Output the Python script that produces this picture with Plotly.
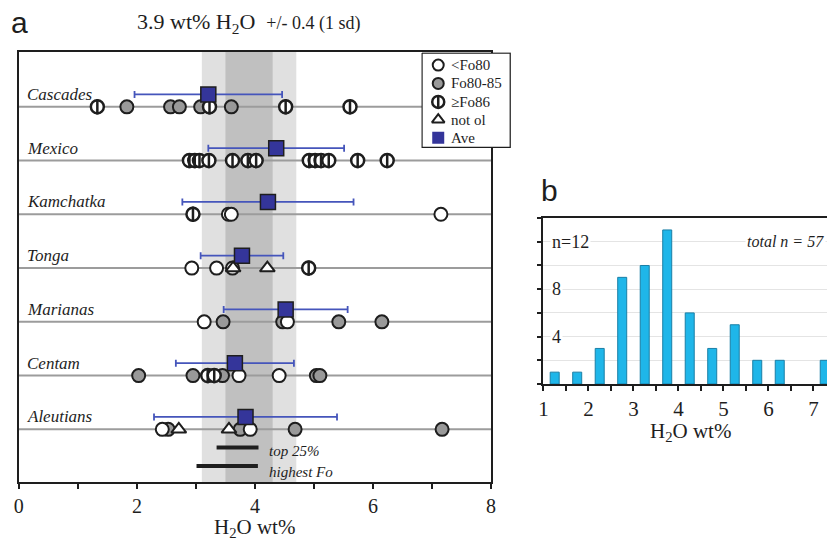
import plotly.graph_objects as go

# ---------------- data ----------------
regions = ["Cascades", "Mexico", "Kamchatka", "Tonga", "Marianas", "Centam", "Aleutians"]

# H2O wt% by olivine class, one list per region (same order as regions)
lt_fo80 = [[], [], [3.55, 3.60, 7.15], [2.93, 3.35, 3.62], [3.14, 4.55], [3.73, 4.41], [2.43, 3.92]]
fo80_85 = [[1.83, 2.57, 2.72, 3.08, 3.60], [], [], [], [3.46, 4.47, 5.42, 6.15],
           [2.03, 2.95, 3.45, 5.04, 5.10], [2.53, 3.75, 4.68, 7.17]]
ge_fo86 = [[1.33, 3.23, 4.52, 5.61],
           [2.89, 2.98, 3.06, 3.22, 3.62, 3.88, 4.02, 4.92, 5.02, 5.12, 5.25, 5.74, 6.24],
           [2.95], [4.91], [], [3.20, 3.31], []]
not_ol = [[], [], [], [3.63, 4.21], [], [], [2.71, 3.56]]
ave = [3.21, 4.36, 4.22, 3.78, 4.52, 3.66, 3.84]
ave_sd = [1.25, 1.15, 1.45, 0.70, 1.05, 1.00, 1.55]

overall_mean = 3.9
overall_sd = 0.4
top25 = [3.35, 4.06]
highest_fo = [3.01, 4.05]

hist_centers = [1.25, 1.75, 2.25, 2.75, 3.25, 3.75, 4.25, 4.75, 5.25, 5.75, 6.25, 6.75, 7.25]
hist_counts = [1, 1, 3, 9, 10, 13, 6, 3, 5, 2, 2, 0, 2]

legend_labels = ["<Fo80", "Fo80-85", "\u2265Fo86", "not ol", "Ave"]

# ---------------- style ----------------
SERIF = "Liberation Serif"
SANS = "Liberation Sans"
INK = "#1e1e1e"
W, H = 832, 543
AVE_OFF = -0.23          # averages drawn slightly above each row line
MS = 13                  # marker size

def flat(groups):
    xs, ys = [], []
    for i, vals in enumerate(groups):
        for v in vals:
            xs.append(v)
            ys.append(i)
    return xs, ys

fig = go.Figure()

# -------- panel a traces --------
x, y = flat(fo80_85)
fig.add_trace(go.Scatter(x=x, y=y, mode="markers", xaxis="x", yaxis="y",
                         marker=dict(symbol="circle", size=MS, color="#999999",
                                     line=dict(color=INK, width=2)), showlegend=False))
x, y = flat(lt_fo80)
fig.add_trace(go.Scatter(x=x, y=y, mode="markers", xaxis="x", yaxis="y",
                         marker=dict(symbol="circle", size=MS, color="white",
                                     line=dict(color=INK, width=2)), showlegend=False))
x, y = flat(ge_fo86)
fig.add_trace(go.Scatter(x=x, y=y, mode="markers", xaxis="x", yaxis="y",
                         marker=dict(symbol="circle", size=MS, color="white",
                                     line=dict(color=INK, width=2.5)), showlegend=False))
fig.add_trace(go.Scatter(x=x, y=y, mode="markers", xaxis="x", yaxis="y",
                         marker=dict(symbol="line-ns", size=11,
                                     line=dict(color=INK, width=2.5)), showlegend=False))
x, y = flat(not_ol)
fig.add_trace(go.Scatter(x=x, y=y, mode="markers", xaxis="x", yaxis="y",
                         marker=dict(symbol="triangle-up", size=MS, color="white",
                                     line=dict(color=INK, width=2)), showlegend=False))
fig.add_trace(go.Scatter(x=ave, y=[i + AVE_OFF for i in range(len(regions))],
                         mode="markers", xaxis="x", yaxis="y",
                         error_x=dict(type="data", array=ave_sd, color="#4555bb",
                                      thickness=1.8, width=3.5),
                         marker=dict(symbol="square", size=15, color="#34359a",
                                     line=dict(color=INK, width=1.5)), showlegend=False))
# top 25% / highest Fo ranges
n = len(regions)
fig.add_trace(go.Scatter(x=top25, y=[n - 0.66] * 2, mode="lines", xaxis="x", yaxis="y",
                         line=dict(color=INK, width=4), showlegend=False))
fig.add_trace(go.Scatter(x=highest_fo, y=[n - 0.32] * 2, mode="lines", xaxis="x", yaxis="y",
                         line=dict(color=INK, width=4), showlegend=False))

# -------- panel b traces --------
fig.add_trace(go.Bar(x=hist_centers, y=hist_counts, width=0.2, xaxis="x2", yaxis="y2",
                     marker=dict(color="#1fb6e9",
                                 line=dict(color="#1a7fa6",
                                           width=[1 if c > 0 else 0 for c in hist_counts])),
                     showlegend=False))

# -------- legend (manual, own hidden axes) --------
fig.add_trace(go.Scatter(x=[0, 90, 90, 0, 0], y=[0, 0, 94, 94, 0], mode="lines",
                         fill="toself", fillcolor="white", xaxis="x3", yaxis="y3",
                         line=dict(color=INK, width=1.5), hoverinfo="skip", showlegend=False))
ly = [12, 30.3, 48.7, 66.3, 84.3]
lx = 16.6
fig.add_trace(go.Scatter(x=[lx], y=[ly[0]], mode="markers", xaxis="x3", yaxis="y3",
                         marker=dict(symbol="circle", size=11, color="white",
                                     line=dict(color=INK, width=2)), showlegend=False))
fig.add_trace(go.Scatter(x=[lx], y=[ly[1]], mode="markers", xaxis="x3", yaxis="y3",
                         marker=dict(symbol="circle", size=11, color="#999999",
                                     line=dict(color=INK, width=2)), showlegend=False))
fig.add_trace(go.Scatter(x=[lx], y=[ly[2]], mode="markers", xaxis="x3", yaxis="y3",
                         marker=dict(symbol="circle", size=12, color="white",
                                     line=dict(color=INK, width=2.5)), showlegend=False))
fig.add_trace(go.Scatter(x=[lx], y=[ly[2]], mode="markers", xaxis="x3", yaxis="y3",
                         marker=dict(symbol="line-ns", size=10, line=dict(color=INK, width=2.5)),
                         showlegend=False))
fig.add_trace(go.Scatter(x=[lx], y=[ly[3]], mode="markers", xaxis="x3", yaxis="y3",
                         marker=dict(symbol="triangle-up", size=11, color="white",
                                     line=dict(color=INK, width=2)), showlegend=False))
fig.add_trace(go.Scatter(x=[lx], y=[ly[4]], mode="markers", xaxis="x3", yaxis="y3",
                         marker=dict(symbol="square", size=12, color="#34359a",
                                     line=dict(width=0)), showlegend=False))

annotations = []
for i, lab in enumerate(legend_labels):
    annotations.append(dict(x=27.5, y=ly[i], xref="x3", yref="y3", text=lab, showarrow=False,
                            xanchor="left", yanchor="middle",
                            font=dict(family=SERIF, size=15, color=INK)))

# -------- shapes: bands & row lines --------
shapes = [
    dict(type="rect", xref="x", yref="y domain", x0=overall_mean - 2 * overall_sd,
         x1=overall_mean + 2 * overall_sd, y0=0, y1=1, fillcolor="#e0e0e0",
         line=dict(width=0), layer="below"),
    dict(type="rect", xref="x", yref="y domain", x0=overall_mean - overall_sd,
         x1=overall_mean + overall_sd, y0=0, y1=1, fillcolor="#c0c0c0",
         line=dict(width=0), layer="below"),
]
for i in range(n):
    shapes.append(dict(type="line", xref="x domain", yref="y", x0=0, x1=1, y0=i, y1=i,
                       line=dict(color="#9c9c9c", width=2), layer="below"))

# region labels
for i, r in enumerate(regions):
    annotations.append(dict(x=0.1, y=i + AVE_OFF, xref="x", yref="y", text="<i>%s</i>" % r,
                            showarrow=False, xanchor="left", yanchor="middle",
                            font=dict(family=SERIF, size=17, color=INK)))
annotations.append(dict(x=4.2, y=n - 0.6, xref="x", yref="y", text="<i>top 25%</i>",
                        showarrow=False, xanchor="left", yanchor="middle",
                        font=dict(family=SERIF, size=15, color=INK)))
annotations.append(dict(x=4.2, y=n - 0.2, xref="x", yref="y", text="<i>highest Fo</i>",
                        showarrow=False, xanchor="left", yanchor="middle",
                        font=dict(family=SERIF, size=15, color=INK)))

# titles / panel letters
annotations += [
    dict(x=4 / W, y=1 - 22 / H, xref="paper", yref="paper", text="a", showarrow=False,
         xanchor="left", yanchor="middle", font=dict(family=SANS, size=30, color=INK)),
    dict(x=541 / W, y=1 - 190 / H, xref="paper", yref="paper", text="b", showarrow=False,
         xanchor="left", yanchor="middle", font=dict(family=SANS, size=30, color=INK)),
    dict(x=132 / W, y=1 - 23 / H, xref="paper", yref="paper",
         text="3.9 wt% H<sub>2</sub>O  <span style='font-size:18px'>+/- 0.4 (1 sd)</span>",
         showarrow=False, xanchor="left", yanchor="middle",
         font=dict(family=SERIF, size=22, color=INK)),
    dict(x=253 / W, y=1 - 528 / H, xref="paper", yref="paper", text="H<sub>2</sub>O wt%",
         showarrow=False, xanchor="center", yanchor="middle",
         font=dict(family=SERIF, size=21, color=INK)),
    dict(x=694 / W, y=1 - 432 / H, xref="paper", yref="paper", text="H<sub>2</sub>O wt%",
         showarrow=False, xanchor="center", yanchor="middle",
         font=dict(family=SERIF, size=21, color=INK)),
]
# histogram inner y labels
for val, txt in [(4, "4"), (8, "8"), (12, "n=12")]:
    annotations.append(dict(x=1.15, y=val, xref="x2", yref="y2", text=txt, showarrow=False,
                            xanchor="left", yanchor="middle", bgcolor="white",
                            font=dict(family=SERIF, size=18, color=INK)))
annotations.append(dict(x=7.27, y=12, xref="x2", yref="y2", text="<i>total n = 57</i>",
                        showarrow=False, xanchor="right", yanchor="middle", bgcolor="white",
                        font=dict(family=SERIF, size=16, color=INK)))

fig.update_layout(
    width=W, height=H, autosize=False,
    margin=dict(l=0, r=0, t=0, b=0),
    paper_bgcolor="white", plot_bgcolor="rgba(0,0,0,0)",
    shapes=shapes, annotations=annotations,
    xaxis=dict(domain=[14 / W, 492 / W], range=[0, 8], anchor="y",
               tick0=0, dtick=2, ticks="outside", ticklen=5, tickwidth=1.5, tickcolor=INK,
               minor=dict(tick0=0, dtick=1, ticks="outside", ticklen=5, tickwidth=1.5,
                          tickcolor=INK, showgrid=False),
               showline=True, linecolor=INK, linewidth=2, mirror=True,
               showgrid=False, zeroline=False,
               tickfont=dict(family=SERIF, size=20, color=INK)),
    yaxis=dict(domain=[1 - 482 / H, 1 - 52 / H], range=[6.98, -1.02], anchor="x",
               showticklabels=False, ticks="", showline=True, linecolor=INK, linewidth=2,
               mirror=True, showgrid=False, zeroline=False),
    xaxis2=dict(domain=[545 / W, 1.0], range=[1, 7.3], anchor="y2",
                tick0=1, dtick=1, ticks="outside", ticklen=5, tickwidth=1.5, tickcolor=INK,
                minor=dict(tick0=1, dtick=0.5, ticks="outside", ticklen=5, tickwidth=1.5,
                           tickcolor=INK, showgrid=False),
                showline=True, linecolor=INK, linewidth=2, mirror=True,
                showgrid=False, zeroline=False,
                tickfont=dict(family=SERIF, size=21, color=INK)),
    yaxis2=dict(domain=[1 - 384 / H, 1 - 217.5 / H], range=[0, 14.05], anchor="x2",
                tick0=0, dtick=2, showticklabels=False,
                ticks="outside", ticklen=4, tickwidth=1.5, tickcolor=INK,
                showline=True, linecolor=INK, linewidth=2,
                showgrid=True, gridcolor="#e4e4e4", gridwidth=1, zeroline=False),
    xaxis3=dict(domain=[421.5 / W, 512 / W], range=[-0.5, 90.5], visible=False,
                anchor="y3", fixedrange=True),
    yaxis3=dict(domain=[1 - 148 / H, 1 - 52.5 / H], range=[94.5, -0.5], visible=False,
                anchor="x3", fixedrange=True),
)

fig.write_html("out.html", config={"displayModeBar": False},
               post_script="document.body.style.margin='0';"
                           "document.body.style.padding='0';"
                           "document.body.style.overflow='hidden';")
